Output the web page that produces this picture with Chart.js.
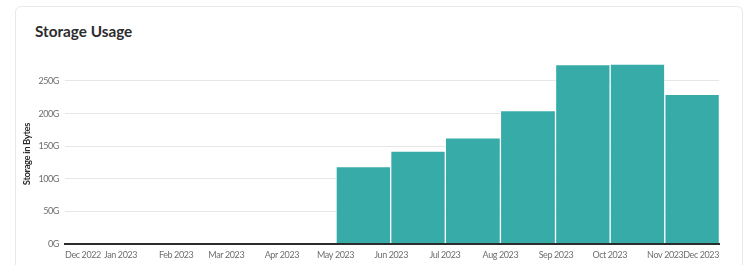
<!DOCTYPE html>
<html><head><meta charset="utf-8">
<script src="https://cdn.jsdelivr.net/npm/chart.js@4.4.0/dist/chart.umd.min.js"></script>
<style>
html,body{margin:0;padding:0;background:#fff;width:750px;height:265px;overflow:hidden;}
#card{position:absolute;left:15px;top:6px;width:728px;height:300px;border:1px solid #e9e9e9;border-radius:6px;box-sizing:border-box;}
#title{position:absolute;left:35px;top:22.5px;font:700 15.3px/16px Lato, sans-serif;color:#2c2c2c;white-space:nowrap;}
#c{position:absolute;left:0;top:0;}
</style></head><body>
<div id="card"></div>
<div id="title">Storage Usage</div>
<canvas id="c" width="750" height="265"></canvas>
<script>
const tickDates = ['2022-12-01','2023-01-01','2023-02-01','2023-03-01','2023-04-01','2023-05-01','2023-06-01','2023-07-01','2023-08-01','2023-09-01','2023-10-01','2023-11-01','2023-12-01'];
const tickLabels = ['Dec 2022','Jan 2023','Feb 2023','Mar 2023','Apr 2023','May 2023','Jun 2023','Jul 2023','Aug 2023','Sep 2023','Oct 2023','Nov 2023','Dec 2023'];
const periodStarts = ['2023-05-01','2023-06-01','2023-07-01','2023-08-01','2023-09-01','2023-10-01','2023-11-01'];
const periodEnds = ['2023-06-01','2023-07-01','2023-08-01','2023-09-01','2023-10-01','2023-11-01','2023-12-01'];
const storageGB = [119, 142.5, 163, 204.5, 275, 276, 229.5];
const yTicks = [0, 50, 100, 150, 200, 250];

const day = s => Date.parse(s + 'T00:00:00Z') / 86400000;
const tickFont = {family: "Lato, sans-serif", size: 9};

const tightText = {
  id: 'tightText',
  beforeLayout(chart) { chart.ctx.letterSpacing = '-0.4px'; },
  beforeDraw(chart) { chart.ctx.letterSpacing = '-0.4px'; }
};

new Chart(document.getElementById('c').getContext('2d'), {
  type: 'bar',
  plugins: [tightText],
  data: {
    datasets: [{
      data: storageGB.map((v, i) => ({x: (day(periodStarts[i]) + day(periodEnds[i])) / 2, y: v})),
      backgroundColor: '#37aba8',
      borderColor: 'rgba(255,255,255,0.55)',
      borderWidth: {left: 1, right: 1, top: 1, bottom: 0},
      borderSkipped: 'bottom',
      barThickness: 'flex',
      barPercentage: 1,
      categoryPercentage: 1
    }]
  },
  options: {
    responsive: false,
    animation: false,
    plugins: {legend: {display: false}, tooltip: {enabled: false}},
    layout: {padding: {left: 21, right: 31, top: 64, bottom: 0}},
    scales: {
      x: {
        type: 'linear',
        offset: false,
        min: day(tickDates[0]),
        max: day(tickDates[tickDates.length - 1]),
        afterBuildTicks: s => { s.ticks = tickDates.map(d => ({value: day(d)})); },
        ticks: {
          autoSkip: false, maxRotation: 0, minRotation: 0, align: 'inner', padding: 5,
          color: '#6e6e6e', font: tickFont,
          callback: (v, i) => tickLabels[i]
        },
        grid: {display: false, drawTicks: false},
        border: {display: true, color: '#2b2b2b', width: 2, z: 1}
      },
      y: {
        min: 0,
        max: Math.max(...storageGB),
        afterBuildTicks: s => { s.ticks = yTicks.map(v => ({value: v})); },
        ticks: {padding: 6, color: '#6e6e6e', font: tickFont, callback: v => v + 'G'},
        grid: {color: '#e6e6e6', drawTicks: false},
        border: {display: false},
        title: {display: true, text: 'Storage in Bytes', color: '#2c2c2c',
          font: {family: 'Lato, sans-serif', weight: 'bold', size: 9.5}, padding: {top: 0, bottom: 0}}
      }
    }
  }
});
</script>
</body></html>
